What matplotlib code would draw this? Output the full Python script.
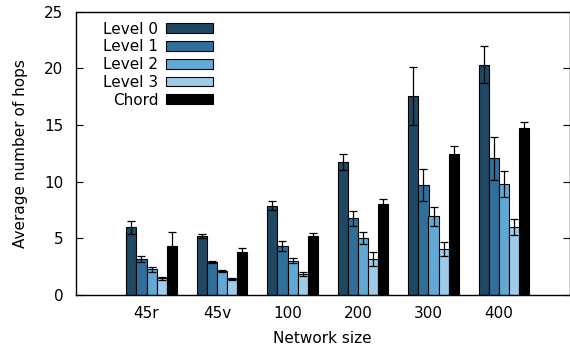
import numpy as np
import matplotlib
matplotlib.use("Agg")
import matplotlib.pyplot as plt

# Network sizes on the x axis
sizes = ["45r", "45v", "100", "200", "300", "400"]

# Average hops per series
level0 = [5.95, 5.18, 7.84, 11.70, 17.55, 20.32]
level1 = [3.15, 2.86, 4.30, 6.75, 9.69, 12.05]
level2 = [2.24, 2.12, 3.00, 4.98, 6.92, 9.78]
level3 = [1.45, 1.39, 1.83, 3.13, 4.04, 5.95]
chord = [4.30, 3.74, 5.21, 8.04, 12.43, 14.73]

# Error bar half-lengths
level0_err = [0.55, 0.18, 0.40, 0.70, 2.60, 1.65]
level1_err = [0.30, 0.08, 0.42, 0.67, 1.44, 1.90]
level2_err = [0.20, 0.08, 0.20, 0.53, 0.85, 1.17]
level3_err = [0.15, 0.12, 0.20, 0.60, 0.60, 0.71]
chord_err = [1.27, 0.35, 0.20, 0.44, 0.68, 0.55]

labels = ["Level 0", "Level 1", "Level 2", "Level 3", "Chord"]
colors = ["#1f4862", "#306f99", "#62a8d4", "#9ecbe7", "#000000"]
series = [level0, level1, level2, level3, chord]
errors = [level0_err, level1_err, level2_err, level3_err, chord_err]

plt.rcParams["font.family"] = "DejaVu Sans"
plt.rcParams["font.size"] = 11

fig = plt.figure(figsize=(5.7, 3.54), dpi=100)
ax = fig.add_axes([76 / 570, 1 - 294.7 / 354, (569.5 - 76) / 570, (294.7 - 11.7) / 354])

x = np.arange(len(sizes))
width = 1 / 7
# group is shifted half a bar to the right of its tick
for j, (vals, errs) in enumerate(zip(series, errors)):
    pos = x + (j - 2) * width + width / 2
    ax.bar(pos, vals, width, color=colors[j], edgecolor="black",
           linewidth=0.8, label=labels[j], zorder=2)
    ax.errorbar(pos, vals, yerr=errs, fmt="none", ecolor="black",
                elinewidth=0.9, capsize=3, capthick=0.9, zorder=3)

ax.set_xlim(-1, 6)
ax.set_ylim(0, 25)
ax.set_xticks(x)
ax.set_xticklabels(sizes)
ax.set_yticks([0, 5, 10, 15, 20, 25])
ax.tick_params(axis="x", length=0, pad=8)
ax.tick_params(axis="y", direction="in", length=5, width=0.8, right=True, pad=9)
for s in ax.spines.values():
    s.set_linewidth(1.0)

ax.set_xlabel("Network size", labelpad=7)
ax.set_ylabel("Average number of hops", labelpad=12)

ax.legend(loc="upper right", bbox_to_anchor=(0.278, 0.965), frameon=False,
          markerfirst=False, handlelength=3.1, handleheight=0.6,
          handletextpad=0.5, labelspacing=0.18, borderpad=0, borderaxespad=0)

fig.savefig("out.png", dpi=100)
